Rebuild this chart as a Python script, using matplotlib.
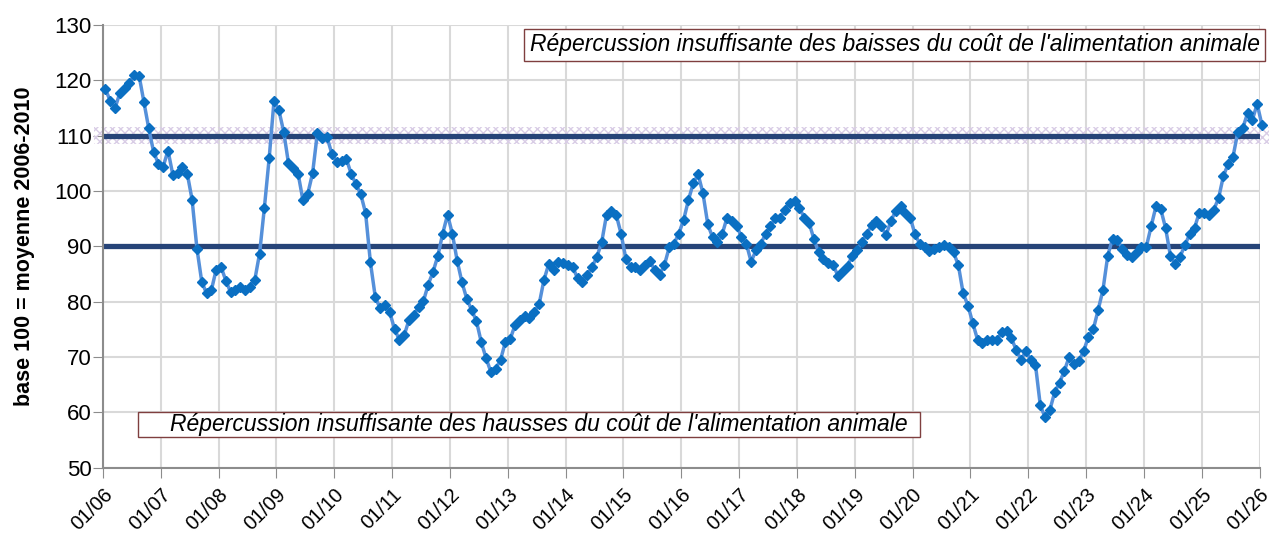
import matplotlib
matplotlib.use("Agg")
import matplotlib.pyplot as plt
from matplotlib.patches import Rectangle
import numpy as np

plt.rcParams['font.family'] = ['Liberation Sans', 'DejaVu Sans']

# monthly index, base 100 = moyenne 2006-2010, from 01/06 to 01/26
values = [
    118.4, 116.3, 114.9, 117.7, 118.6, 119.5, 120.9, 120.8, 116.1, 111.3, 107.1, 104.9,
    104.4, 107.3, 102.9, 103.2, 104.4, 103.1, 98.4, 89.6, 83.6, 81.5, 82.1, 85.8,
    86.3, 83.8, 81.7, 82.2, 82.6, 82.2, 82.7, 83.9, 88.7, 97.0, 106.0, 116.3,
    114.6, 110.7, 105.0, 104.1, 103.1, 98.3, 99.5, 103.2, 110.5, 109.5, 109.7, 106.7,
    105.3, 105.4, 105.8, 103.1, 101.2, 99.4, 96.0, 87.1, 80.9, 78.8, 79.4, 78.1,
    75.1, 73.1, 73.9, 76.7, 77.6, 79.1, 80.1, 83.1, 85.4, 88.3, 92.3, 95.7,
    92.3, 87.4, 83.5, 80.5, 78.5, 76.5, 72.7, 69.8, 67.3, 67.9, 69.5, 72.7,
    73.2, 75.8, 76.7, 77.4, 77.1, 78.2, 79.5, 83.9, 86.8, 85.7, 87.2, 87.0,
    86.7, 86.2, 84.2, 83.6, 84.8, 86.3, 88.1, 90.8, 95.7, 96.3, 95.7, 92.3,
    87.8, 86.3, 86.3, 85.7, 86.6, 87.3, 85.7, 84.9, 86.6, 89.8, 90.5, 92.3,
    94.8, 98.4, 101.4, 103.0, 99.6, 94.0, 91.6, 90.7, 92.2, 95.2, 94.5, 93.7,
    91.7, 90.5, 87.2, 89.3, 90.5, 92.2, 93.6, 95.1, 95.2, 96.6, 97.9, 98.1,
    97.0, 95.2, 94.3, 91.4, 88.9, 87.7, 87.0, 86.7, 84.7, 85.6, 86.5, 88.3,
    89.3, 90.8, 92.3, 93.8, 94.6, 93.6, 92.0, 94.6, 96.4, 97.3, 96.1, 95.2,
    92.2, 90.4, 89.8, 89.2, 89.6, 89.9, 90.2, 89.8, 88.9, 86.6, 81.5, 79.3,
    76.1, 73.1, 72.5, 73.1, 73.0, 73.0, 74.6, 74.8, 73.4, 71.3, 69.5, 71.1,
    69.5, 68.6, 61.3, 59.1, 60.5, 63.7, 65.4, 67.5, 70.1, 68.7, 69.3, 71.1,
    73.7, 75.0, 78.5, 82.1, 88.3, 91.4, 91.1, 89.6, 88.4, 88.0, 89.0, 89.8,
    89.9, 93.6, 97.2, 96.7, 93.3, 88.3, 86.8, 88.1, 90.2, 92.2, 93.3, 96.1,
    96.1, 95.7, 96.6, 98.7, 102.7, 104.9, 106.2, 110.7, 111.3, 114.0, 112.8, 115.7,
    111.9,
]
year_labels = ['01/%02d' % y for y in range(6, 27)]
upper_level = 110
lower_level = 90
text_upper = "Répercussion insuffisante des baisses du coût de l'alimentation animale"
text_lower = "Répercussion insuffisante des hausses du coût de l'alimentation animale"

fig = plt.figure(figsize=(12.71, 5.39), dpi=100)
ax = fig.add_axes([0.081, 0.132, 0.910, 0.822])

months = np.arange(len(values)) + 0.5

ax.set_xlim(0, 240)
ax.set_ylim(50, 130)
ax.set_xticks(np.arange(0, 241, 12))
ax.set_xticklabels(year_labels, rotation=45, ha='right', rotation_mode='anchor', fontsize=14.5)
ax.set_yticks(np.arange(50, 131, 10))
ax.tick_params(axis='y', labelsize=16, length=7, color='#8c8c8c', pad=1)
ax.tick_params(axis='x', length=7, color='#8c8c8c', pad=5)
ax.grid(True, color='#d9d9d9', linewidth=1.5)
ax.set_axisbelow(True)
for s in ['top', 'right']:
    ax.spines[s].set_visible(False)
for s in ['left', 'bottom']:
    ax.spines[s].set_color('#8c8c8c')
    ax.spines[s].set_linewidth(1.5)

# hatched band around the upper threshold
ax.axhspan(upper_level - 1.5, upper_level + 1.5, xmin=-0.008, xmax=1.008, facecolor='none',
           edgecolor='#d9cde6', hatch='xxxx', linewidth=0, clip_on=False, zorder=1)
ax.axhline(upper_level, color='#264478', linewidth=3.8, zorder=2)
ax.axhline(lower_level, color='#264478', linewidth=3.8, zorder=2)

ax.plot(months, values, color='#5590da', linewidth=2.5, marker='D', markersize=5.5,
        markerfacecolor='#0a6fc2', markeredgecolor='#0a6fc2', clip_on=False, zorder=3)

ax.set_ylabel('base 100 = moyenne 2006-2010', fontsize=15.5, fontweight='bold', labelpad=14)

# text boxes
trans = ax.get_yaxis_transform()
ax.add_patch(Rectangle((0.364, 123.5), 0.641, 5.8, transform=trans, facecolor='white',
                       edgecolor='#7f3f3f', linewidth=1, clip_on=False, zorder=4))
ax.text(0.685, 126.4, text_upper, transform=trans, ha='center', va='center',
        fontsize=16.5, style='italic', zorder=5)
ax.add_patch(Rectangle((0.0302, 55.56), 0.6764, 4.5, transform=trans, facecolor='white',
                       edgecolor='#7f3f3f', linewidth=1, clip_on=False, zorder=4))
ax.text(0.377, 57.8, text_lower, transform=trans, ha='center', va='center',
        fontsize=16.5, style='italic', zorder=5)

plt.savefig('out.png', dpi=100)
